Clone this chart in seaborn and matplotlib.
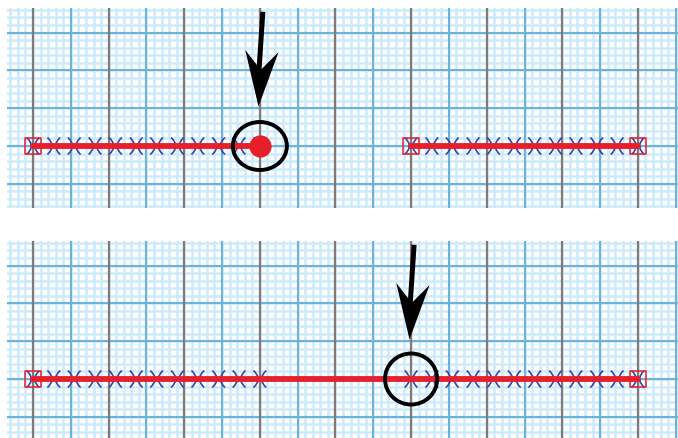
import numpy as np
import pandas as pd
import matplotlib
matplotlib.use("Agg")
import matplotlib.pyplot as plt
import seaborn as sns
from matplotlib.patches import Ellipse
from matplotlib.path import Path
from matplotlib.markers import MarkerStyle
from matplotlib.transforms import Affine2D
from matplotlib.ticker import MultipleLocator

# ---- data ----
top_left_x = [0, 6]
top_right_x = [10, 16]
bottom_x = [0, 16]
line_y = [0, 0]
left_markers = [0.0, 0.55, 1.09, 1.64, 2.18, 2.73, 3.27, 3.82, 4.36, 4.91, 5.45, 6.0]
right_markers = [10.0, 10.55, 11.09, 11.64, 12.18, 12.73, 13.27, 13.82, 14.36, 14.91, 15.45, 16.0]
top_squares = [0, 10, 16]
bottom_squares = [0, 16]
top_dot = [6]
top_focus = 6
bottom_focus = 10
dark_x = [0, 2, 4, 6, 8, 10, 12, 14, 16]
blue_x = [-1, 1, 3, 5, 7, 9, 11, 13, 15, 17]
blue_y = [-1, 0, 1, 2, 3]

RED = "#e61f2a"
BLUE_MK = "#3c40a8"

sns.set_theme(style="white")

# ")(" marker built from two curved strokes
paren_path = Path(
    [(-0.45, 0.6), (0.2, 0.0), (-0.45, -0.6),
     (0.45, 0.6), (-0.2, 0.0), (0.45, -0.6)],
    [Path.MOVETO, Path.CURVE3, Path.CURVE3,
     Path.MOVETO, Path.CURVE3, Path.CURVE3],
)

# concave arrow head, tip at the origin, pointing down
head_path = Path(
    [(0, 0), (0.3, 1.0), (0, 0.66), (-0.3, 1.0), (0, 0)],
    [Path.MOVETO, Path.LINETO, Path.LINETO, Path.LINETO, Path.CLOSEPOLY],
)

fig = plt.figure(figsize=(6.78, 4.38), dpi=100)
ax1 = fig.add_axes([7 / 678, 1 - 208 / 438, 671 / 678, 200 / 438])
ax2 = fig.add_axes([7 / 678, 0, 671 / 678, 197 / 438])


def paper(ax, ylim):
    ax.set_xlim(-0.688, 17.06)
    ax.set_ylim(*ylim)
    for axis in (ax.xaxis, ax.yaxis):
        axis.set_major_locator(MultipleLocator(1))
        axis.set_minor_locator(MultipleLocator(0.2))
    ax.grid(which="minor", color="#cdeafa", lw=1.8)
    ax.grid(which="major", color="#cdeafa", lw=1.8)
    for yv in blue_y:
        ax.axhline(yv, color="#6cb2d9", lw=1.5, zorder=0.6)
    for xv in blue_x:
        ax.axvline(xv, color="#6cb2d9", lw=1.5, zorder=0.6)
    for xv in dark_x:
        ax.axvline(xv, color="#7f7a7a", lw=1.6, zorder=0.7)
    ax.set_axisbelow(True)
    ax.tick_params(which="both", length=0, labelbottom=False, labelleft=False)
    for s in ax.spines.values():
        s.set_visible(False)
    ax.set_xlabel("")
    ax.set_ylabel("")


def markers(ax, xs):
    sns.scatterplot(x=xs, y=[0] * len(xs), marker=paren_path, s=150,
                    facecolors="none", edgecolor=BLUE_MK, linewidth=1.2,
                    ax=ax, zorder=3, legend=False)


def squares(ax, xs):
    sns.scatterplot(x=xs, y=[0] * len(xs), marker="s", s=125, facecolors="none",
                    edgecolor=RED, linewidth=1.1, ax=ax, zorder=5, legend=False)


def redline(ax, xs):
    sns.lineplot(x=xs, y=line_y, color=RED, lw=4.2, ax=ax, zorder=4, legend=False)


def arrow(ax, xf):
    x0, y0 = xf + 0.08, 3.55
    x1, y1 = xf - 0.06, 1.07
    ax.plot([x0, x1 + 0.035], [y0, y1 + 0.9], color="black", lw=3.6,
            solid_capstyle="butt", zorder=7)
    mk = MarkerStyle(head_path, transform=Affine2D().rotate_deg(-3.5))
    ax.plot([x1], [y1], marker=mk, markersize=80, color="black",
            markeredgewidth=0, linestyle="none", zorder=7)


# top panel
paper(ax1, (-1.64, 3.65))
markers(ax1, left_markers)
markers(ax1, right_markers)
redline(ax1, top_left_x)
redline(ax1, top_right_x)
squares(ax1, top_squares)
sns.scatterplot(x=top_dot, y=[0] * len(top_dot), s=16 ** 2, color=RED, linewidth=0,
                ax=ax1, zorder=6, legend=False)
ax1.add_patch(Ellipse((top_focus, 0), 1.43, 1.27, fill=False, ec="black", lw=2.8, zorder=7))
arrow(ax1, top_focus)

# bottom panel
paper(ax2, (-1.56, 3.65))
markers(ax2, left_markers)
markers(ax2, right_markers)
redline(ax2, bottom_x)
squares(ax2, bottom_squares)
ax2.add_patch(Ellipse((bottom_focus, 0), 1.38, 1.35, fill=False, ec="black", lw=2.8, zorder=7))
arrow(ax2, bottom_focus)

fig.savefig("out.png", dpi=100, facecolor="white")
